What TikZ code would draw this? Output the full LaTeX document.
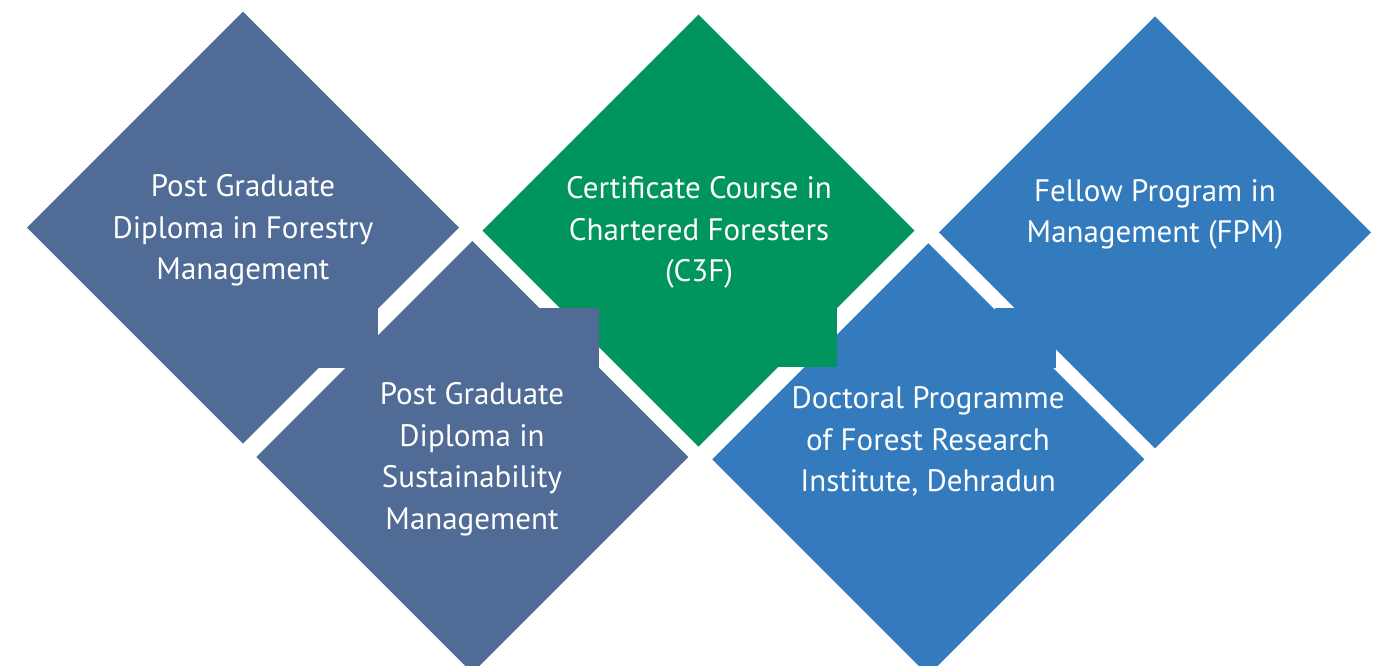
\documentclass[tikz,border=0pt]{standalone}
\usepackage{fontspec}
\setmainfont{PT Sans}
\definecolor{slate}{HTML}{4F6B96}
\definecolor{fgreen}{HTML}{00945E}
\definecolor{fblue}{HTML}{337BBD}
\newcommand\mydiamond[3]{\fill[#3] (#1,#2) ++(0,-216) -- ++(216,216) -- ++(-216,216) -- ++(-216,-216) -- cycle;}
\begin{document}
\begin{tikzpicture}[x=1pt,y=-1pt,
  lbl/.style={text=white, align=center, inner sep=0pt, font=\fontsize{31}{41.5}\selectfont}]
\useasboundingbox (0,0) rectangle (1382,665);
\clip (0,0) rectangle (1382,665);
% diamonds
\mydiamond{243}{227.5}{slate}
\mydiamond{472.3}{457}{slate}
\mydiamond{698.5}{230.7}{fgreen}
\mydiamond{928.3}{459.3}{fblue}
\mydiamond{1155}{232.3}{fblue}
% small squares over the gaps
\fill[slate] (318,308) rectangle (378.3,368.3);
\fill[slate] (539,307.7) rectangle (599.3,368.3);
\fill[fgreen] (776.5,307.3) rectangle (836.7,367.3);
\fill[fblue] (995,307.7) rectangle (1055.7,368.3);
% texts
\node[lbl] (t1) at (243,230.5) {Post Graduate\\Diploma in Forestry\\Management};
\node[lbl] (t2) at (472,459) {Post Graduate\\Diploma in\\Sustainability\\Management};
\node[lbl] (t3) at (699,232.5) {Certificate Course in\\Chartered Foresters\\(C3F)};
\node[lbl] (t4) at (928,441.5) {Doctoral Programme\\of Forest Research\\Institute, Dehradun};
\node[lbl] (t5) at (1155,214.5) {Fellow Program in\\Management (FPM)};
\end{tikzpicture}
\end{document}
